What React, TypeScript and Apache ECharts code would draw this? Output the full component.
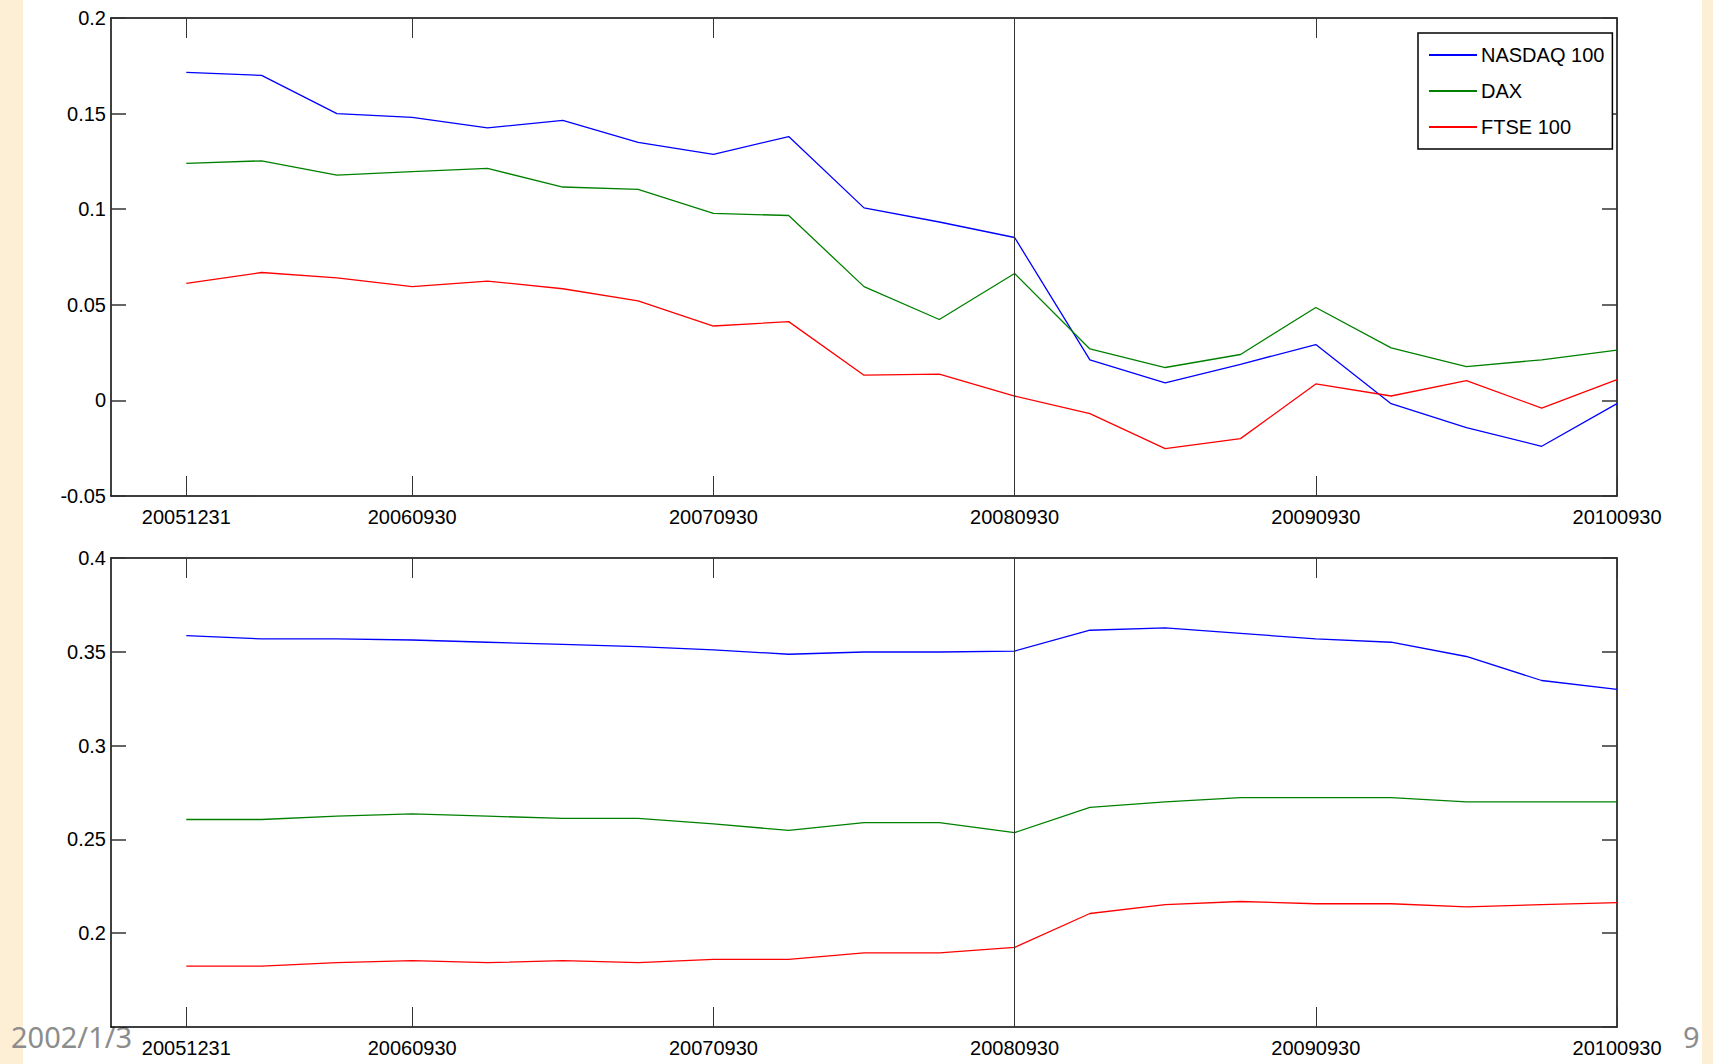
import React, { useEffect, useRef } from "react";
import * as echarts from "echarts";

const quarters = [
  "20051231", "20060331", "20060630", "20060930", "20061231", "20070331", "20070630",
  "20070930", "20071231", "20080331", "20080630", "20080930", "20081231", "20090331",
  "20090630", "20090930", "20091231", "20100331", "20100630", "20100930",
];
const tickDates = ["20051231", "20060930", "20070930", "20080930", "20090930", "20100930"];
const markDate = "20080930";
const seriesNames = ["NASDAQ 100", "DAX", "FTSE 100"];
const seriesColors = ["#0000ff", "#008000", "#ff0000"];

// upper panel
const nasdaqTop = [0.1716, 0.170, 0.150, 0.148, 0.1425, 0.1465, 0.135, 0.1287, 0.138, 0.1007,
  0.0933, 0.0852, 0.0212, 0.0092, 0.0189, 0.0292, -0.0017, -0.0143, -0.024, -0.0017];
const daxTop = [0.124, 0.1253, 0.1178, 0.1196, 0.1213, 0.1116, 0.1104, 0.0978, 0.0967, 0.0595,
  0.0423, 0.0664, 0.0269, 0.0172, 0.024, 0.0486, 0.0275, 0.0177, 0.0212, 0.0263];
const ftseTop = [0.0612, 0.0669, 0.0641, 0.0595, 0.0624, 0.0584, 0.0521, 0.0389, 0.0412, 0.0132,
  0.0137, 0.0023, -0.0069, -0.0252, -0.020, 0.0086, 0.0023, 0.0103, -0.004, 0.0109];

// lower panel
const nasdaqBottom = [0.3586, 0.3569, 0.3569, 0.3563, 0.3551, 0.354, 0.3528, 0.351, 0.3487, 0.3499,
  0.3499, 0.3504, 0.3615, 0.3627, 0.3598, 0.3569, 0.3551, 0.3475, 0.3347, 0.330];
const daxBottom = [0.2606, 0.2606, 0.2624, 0.2636, 0.2624, 0.2612, 0.2612, 0.2583, 0.2548, 0.2589,
  0.2589, 0.2536, 0.2671, 0.270, 0.2723, 0.2723, 0.2723, 0.270, 0.270, 0.270];
const ftseBottom = [0.1825, 0.1825, 0.1843, 0.1854, 0.1843, 0.1854, 0.1843, 0.186, 0.186, 0.1895,
  0.1895, 0.1924, 0.2105, 0.2152, 0.2169, 0.2157, 0.2157, 0.214, 0.2152, 0.2163];

const topRange = { min: -0.05, max: 0.2, interval: 0.05 };
const bottomRange = { min: 0.15, max: 0.4, interval: 0.05 };

const footerDate = "2002/1/3";
const footerPage = "9";

const FONT = "'Liberation Sans', Arial, sans-serif";

export default function App() {
  const ref = useRef<HTMLDivElement>(null);

  useEffect(() => {
    if (!ref.current) return;
    const chart = echarts.init(ref.current, null, { renderer: "svg" });
    const tickIdx = tickDates.map((d) => quarters.indexOf(d));
    const markIdx = quarters.indexOf(markDate);
    const toPairs = (arr: number[]) => arr.map((v, i) => [i, v]);

    const axisLine = { show: true, onZero: false, lineStyle: { color: "#000", width: 1.5 } };
    const labelStyle = { color: "#000", fontFamily: FONT, fontSize: 20 };

    const xAxisPair = (gridIndex: number) => [
      {
        type: "value",
        gridIndex,
        position: "bottom",
        min: -1,
        max: quarters.length - 1,
        splitLine: { show: false },
        axisLine,
        axisTick: { show: true, inside: true, length: 20, customValues: tickIdx, lineStyle: { color: "#333", width: 1 } },
        axisLabel: {
          ...labelStyle,
          margin: 11,
          customValues: tickIdx,
          formatter: (v: number) => quarters[Math.round(v)] ?? "",
        },
      },
      {
        type: "value",
        gridIndex,
        position: "top",
        min: -1,
        max: quarters.length - 1,
        splitLine: { show: false },
        axisLine,
        axisTick: { show: true, inside: true, length: 20, customValues: tickIdx, lineStyle: { color: "#333", width: 1 } },
        axisLabel: { show: false },
      },
    ];

    const yAxisPair = (gridIndex: number, r: { min: number; max: number; interval: number }, showMin: boolean) => [
      {
        type: "value",
        gridIndex,
        position: "left",
        min: r.min,
        max: r.max,
        interval: r.interval,
        splitLine: { show: false },
        axisLine,
        axisTick: { show: true, inside: true, length: 15, lineStyle: { color: "#333", width: 1.5 } },
        axisLabel: {
          ...labelStyle,
          margin: 5,
          showMinLabel: showMin,
          formatter: (v: number) => String(Math.round(v * 100) / 100),
        },
      },
      {
        type: "value",
        gridIndex,
        position: "right",
        min: r.min,
        max: r.max,
        interval: r.interval,
        splitLine: { show: false },
        axisLine,
        axisTick: { show: true, inside: true, length: 15, lineStyle: { color: "#333", width: 1.5 } },
        axisLabel: { show: false },
      },
    ];

    const markLine = {
      silent: true,
      symbol: "none",
      label: { show: false },
      lineStyle: { color: "#333", width: 1, type: "solid" },
      data: [{ xAxis: markIdx }],
    };

    const mk = (name: string, color: string, data: number[], xi: number, yi: number, withMark: boolean) => ({
      type: "line",
      name,
      data: toPairs(data),
      xAxisIndex: xi,
      yAxisIndex: yi,
      symbol: "none",
      lineStyle: { color, width: 1.3 },
      itemStyle: { color },
      ...(withMark ? { markLine } : {}),
    });

    chart.setOption({
      animation: false,
      backgroundColor: "#ffffff",
      grid: [
        { left: 111, top: 18, width: 1506, height: 478 },
        { left: 111, top: 558, width: 1506, height: 469 },
      ],
      xAxis: [...xAxisPair(0), ...xAxisPair(1)],
      yAxis: [...yAxisPair(0, topRange, true), ...yAxisPair(1, bottomRange, false)],
      legend: {
        data: seriesNames,
        orient: "vertical",
        left: 1418,
        top: 33,
        padding: [10, 8, 10, 11],
        itemGap: 12,
        itemWidth: 48,
        itemHeight: 2,
        icon: "rect",
        backgroundColor: "#fff",
        borderColor: "#000",
        borderWidth: 1.5,
        borderRadius: 0,
        textStyle: { ...labelStyle, fontSize: 20, lineHeight: 24, padding: [0, 0, 0, -1] },
      },
      series: [
        mk(seriesNames[0], seriesColors[0], nasdaqTop, 0, 0, true),
        mk(seriesNames[1], seriesColors[1], daxTop, 0, 0, false),
        mk(seriesNames[2], seriesColors[2], ftseTop, 0, 0, false),
        mk(seriesNames[0], seriesColors[0], nasdaqBottom, 2, 2, true),
        mk(seriesNames[1], seriesColors[1], daxBottom, 2, 2, false),
        mk(seriesNames[2], seriesColors[2], ftseBottom, 2, 2, false),
      ],
      graphic: [
        { type: "rect", left: 0, top: 0, shape: { width: 23, height: 1064 }, style: { fill: "#fcefd6" }, z: -10 },
        { type: "rect", left: 1702, top: 0, shape: { width: 11, height: 1064 }, style: { fill: "#fcefd6" }, z: -10 },
        {
          type: "text",
          left: 11,
          top: 1022,
          style: { text: footerDate, fill: "#8c8c8c", font: "29px 'Noto Sans', 'Open Sans', sans-serif" },
        },
        {
          type: "text",
          left: 1683,
          top: 1022,
          style: { text: footerPage, fill: "#8c8c8c", font: "29px 'Noto Sans', 'Open Sans', sans-serif" },
        },
      ],
    });

    return () => chart.dispose();
  }, []);

  return (
    <div
      ref={ref}
      style={{ position: "fixed", left: 0, top: 0, width: 1713, height: 1064, background: "#fff" }}
    />
  );
}
